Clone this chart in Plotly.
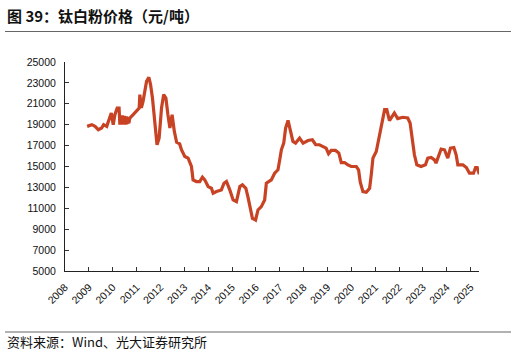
import plotly.graph_objects as go

dates = [
    "2008-12-05", "2009-02-15", "2009-04-05", "2009-05-25", "2009-07-15", "2009-08-15",
    "2009-10-01", "2009-11-15", "2009-12-10", "2010-01-08", "2010-02-03", "2010-03-10",
    "2010-04-08", "2010-04-20", "2010-04-28", "2010-05-05", "2010-05-12", "2010-05-20",
    "2010-05-28", "2010-06-05", "2010-06-12", "2010-06-20", "2010-06-28", "2010-07-05",
    "2010-07-12", "2010-07-20", "2010-07-28", "2010-08-05", "2010-08-12", "2010-08-20",
    "2010-08-28", "2010-09-05", "2010-09-20",
    "2010-11-10", "2011-01-01", "2011-02-10", "2011-02-20", "2011-03-15", "2011-04-10",
    "2011-05-08", "2011-06-03", "2011-07-08", "2011-08-03", "2011-09-01", "2011-10-08",
    "2011-11-10", "2011-12-12", "2012-01-18", "2012-02-20", "2012-03-25", "2012-04-25",
    "2012-05-25", "2012-06-28", "2012-08-01", "2012-09-05", "2012-10-22", "2012-11-18",
    "2013-01-08", "2013-02-28", "2013-03-25", "2013-04-20", "2013-05-15", "2013-07-05",
    "2013-08-25", "2013-10-05", "2013-11-10", "2014-01-01", "2014-02-20", "2014-03-18",
    "2014-05-08", "2014-07-22", "2014-09-01", "2014-10-08", "2014-11-28", "2015-01-18",
    "2015-03-10", "2015-05-01", "2015-06-10", "2015-08-01", "2015-09-01", "2015-09-28",
    "2015-11-10", "2015-12-28", "2016-02-03", "2016-03-25", "2016-05-15", "2016-06-10",
    "2016-08-25", "2016-10-15", "2016-12-05", "2017-01-01", "2017-01-26", "2017-03-03",
    "2017-04-01", "2017-05-08", "2017-06-12", "2017-07-22", "2017-09-01", "2017-11-01",
    "2017-12-25", "2018-03-10", "2018-05-15", "2018-07-05", "2018-09-01", "2018-10-22",
    "2018-12-12", "2019-01-18", "2019-02-28", "2019-05-05", "2019-06-25", "2019-08-01",
    "2019-09-20", "2019-11-10", "2020-01-01", "2020-03-18", "2020-04-22", "2020-05-18",
    "2020-06-28", "2020-08-18", "2020-10-08", "2020-11-02", "2020-11-28", "2021-01-18",
    "2021-02-28", "2021-04-05", "2021-05-01", "2021-05-26", "2021-06-28", "2021-08-08",
    "2021-10-22", "2021-12-12", "2022-02-28", "2022-05-15", "2022-06-20", "2022-07-20",
    "2022-08-25", "2022-10-01", "2022-12-05", "2023-02-10", "2023-03-18", "2023-05-08",
    "2023-06-28", "2023-07-22", "2023-09-01", "2023-10-08", "2023-11-28", "2024-01-18",
    "2024-02-28", "2024-04-20", "2024-05-25", "2024-06-20", "2024-09-05", "2024-10-28",
    "2024-12-15", "2025-02-15", "2025-03-18", "2025-04-12", "2025-05-15",
]

prices = [
    18840, 19000, 18840, 18520, 18680, 19000,
    18840, 19640, 20120, 19000, 19960, 20600,
    20600, 19000, 19900, 19000, 19900, 19000,
    19900, 19000, 19850, 19000, 19850, 19000,
    19800, 19000, 19800, 19050, 19750, 19100,
    19700, 19150, 19640,
    19960, 20280, 20600, 21880, 20600, 21240,
    22520, 23160, 23540, 22840, 21560, 19000,
    17080, 17720, 20600, 21880, 21560, 19960,
    18680, 19960, 18360, 17320, 17160, 16600,
    15960, 15800, 15320, 15000, 13720, 13560,
    13560, 13980, 13720, 13080, 12920, 12440,
    12600, 12760, 13400, 13560, 12760, 11800,
    11640, 13080, 13240, 12920, 12120, 11160,
    10040, 9880, 10840, 11160, 11800, 13400,
    13720, 14360, 14680, 15640, 16600, 17240,
    18680, 19410, 18360, 17400, 17240, 17720,
    17240, 17490, 17560, 17080, 17080, 16920,
    16760, 16220, 16540, 16540, 16280, 15380,
    15380, 15160, 15000, 15000, 14680, 13500,
    12600, 12540, 12920, 14200, 15800, 16440,
    17720, 18840, 19960, 20440, 20440, 19380,
    20120, 19580, 19710, 19640, 19160, 17720,
    16120, 15160, 15000, 15160, 15800, 15860,
    15640, 15320, 16120, 16670, 16600, 15800,
    16760, 16820, 16120, 15160, 15160, 14900,
    14360, 14360, 14900, 14900, 14270,
]

y_ticks = [5000, 7000, 9000, 11000, 13000, 15000, 17000, 19000, 21000, 23000, 25000]

title_text = "图 39：钛白粉价格（元/吨）"
source_text = "资料来源：Wind、光大证券研究所"

fig = go.Figure()
fig.add_trace(go.Scatter(
    x=dates, y=prices, mode="lines",
    line=dict(color="rgb(200,66,36)", width=3.2),
    showlegend=False, hoverinfo="skip",
))

W, H = 516, 353
L, R, T, B = 65, 37, 62, 82
pw, ph = W - L - R, H - T - B

def px_x(px):
    return (px - L) / pw

def px_y(py):
    return (H - B - py) / ph

fig.update_layout(
    width=W, height=H,
    margin=dict(l=L, r=R, t=T, b=B),
    paper_bgcolor="white", plot_bgcolor="white",
    xaxis=dict(
        type="date",
        range=["2008-01-01", "2025-05-10"],
        tickformat="%Y", dtick="M12", tick0="2008-01-01",
        tickangle=-45,
        ticks="inside", ticklen=4, tickcolor="#333",
        showline=True, linecolor="#222", linewidth=1,
        showgrid=False, zeroline=False,
        ticklabelstandoff=5,
        tickfont=dict(family="Liberation Sans, Arial", size=10.5, color="#111"),
    ),
    yaxis=dict(
        range=[5000, 25000],
        tickvals=y_ticks,
        ticktext=[str(v) for v in y_ticks],
        ticks="inside", ticklen=4, tickcolor="#333",
        showline=True, linecolor="#222", linewidth=1,
        showgrid=False, zeroline=False,
        ticklabelstandoff=6,
        tickfont=dict(family="Liberation Sans, Arial", size=10.5, color="#111"),
    ),
    annotations=[
        dict(text="<b>" + title_text + "</b>", xref="paper", yref="paper",
             x=px_x(5), y=px_y(15), xanchor="left", yanchor="middle",
             showarrow=False,
             font=dict(family="Noto Sans CJK SC", size=15, color="#111")),
        dict(text=source_text, xref="paper", yref="paper",
             x=px_x(5), y=px_y(341), xanchor="left", yanchor="middle",
             showarrow=False,
             font=dict(family="Noto Sans CJK SC", size=13, color="#111")),
    ],
    shapes=[
        dict(type="line", xref="paper", yref="paper",
             x0=px_x(5), x1=px_x(511), y0=px_y(31.5), y1=px_y(31.5),
             line=dict(color="#666", width=1.2)),
        dict(type="line", xref="paper", yref="paper",
             x0=px_x(5), x1=px_x(511), y0=px_y(332), y1=px_y(332),
             line=dict(color="#666", width=1.2)),
    ],
)

fig.write_html(
    "out.html",
    config={"displayModeBar": False, "staticPlot": True},
    post_script="document.body.style.margin='0';document.body.style.padding='0';",
)
